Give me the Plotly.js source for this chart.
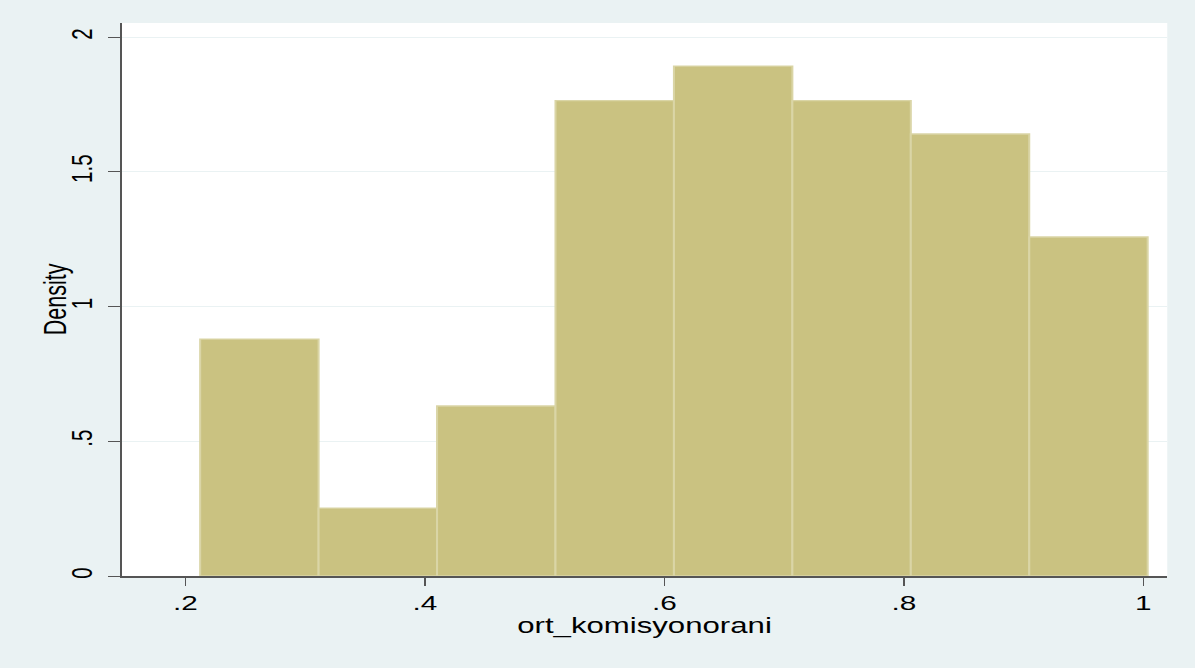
<!DOCTYPE html>
<html>
<head>
<meta charset="utf-8">
<script src="https://cdn.plot.ly/plotly-3.0.1.min.js"></script>
<style>
  html, body { margin: 0; padding: 0; background: #EAF2F3; overflow: hidden; }
  #wrap { width: 1195px; height: 668px; overflow: hidden; }
  #chart { width: 824px; height: 668px; transform: scaleX(1.45); transform-origin: 0 0; }
</style>
</head>
<body>
<div id="wrap"><div id="chart"></div></div>
<script>
// Histogram of ort_komisyonorani (density scale)
const binCenters = [0.2619, 0.3608, 0.4597, 0.5586, 0.6575, 0.7564, 0.8553, 0.9542];
const binWidth = 0.0989;
const densities = [0.879, 0.252, 0.631, 1.764, 1.892, 1.764, 1.640, 1.258];
const xTickVals = [0.2, 0.4, 0.6, 0.8, 1];
const xTickText = ['.2', '.4', '.6', '.8', '1'];
const yTickVals = [0, 0.5, 1, 1.5, 2];
const yTickText = ['0', '.5', '1', '1.5', '2'];
const xTitle = 'ort_komisyonorani';
const yTitle = 'Density';

const S = 1.45; // horizontal stretch of the reference
const W = 1195 / S;
const L = 122 / S;

const trace = {
  type: 'bar',
  x: binCenters,
  y: densities,
  width: binCenters.map(() => binWidth),
  marker: { color: '#CAC281', line: { color: '#DAD5A6', width: 1.4 } },
  hoverinfo: 'x+y'
};

const layout = {
  width: W,
  height: 668,
  paper_bgcolor: '#EAF2F3',
  plot_bgcolor: '#FFFFFF',
  margin: { l: L, r: (1195 - 1167) / S, t: 23, b: 92 },
  showlegend: false,
  bargap: 0,
  font: { family: 'Liberation Sans, Arial, sans-serif', color: '#000000' },
  xaxis: {
    range: [0.147, 1.020],
    tickvals: xTickVals,
    ticktext: xTickText,
    ticks: 'outside', ticklen: 8, tickwidth: 1, tickcolor: '#555555',
    showline: true, linecolor: '#555555', linewidth: 1.5,
    showgrid: false, zeroline: false,
    tickfont: { size: 20.5, color: '#000000' },
    title: { text: xTitle, font: { size: 21.5, color: '#000000' }, standoff: 2 }
  },
  yaxis: {
    range: [0, 2.052],
    tickvals: yTickVals,
    ticktext: yTickText,
    tickangle: -90,
    ticklabelstandoff: 3,
    ticks: 'outside', ticklen: 8, tickwidth: 1, tickcolor: '#555555',
    showline: true, linecolor: '#555555', linewidth: 1.5,
    showgrid: true, gridcolor: '#EAF2F3', gridwidth: 1,
    zeroline: false,
    tickfont: { size: 20.5, color: '#000000' }
  },
  annotations: [{
    text: yTitle,
    xref: 'paper', yref: 'paper',
    x: 0, y: 0.5,
    xshift: 55 / S - L,
    xanchor: 'center', yanchor: 'middle',
    textangle: -90,
    showarrow: false,
    font: { size: 21.5, color: '#000000' }
  }]
};

Plotly.newPlot('chart', [trace], layout, { displayModeBar: false, staticPlot: true });
</script>
</body>
</html>
